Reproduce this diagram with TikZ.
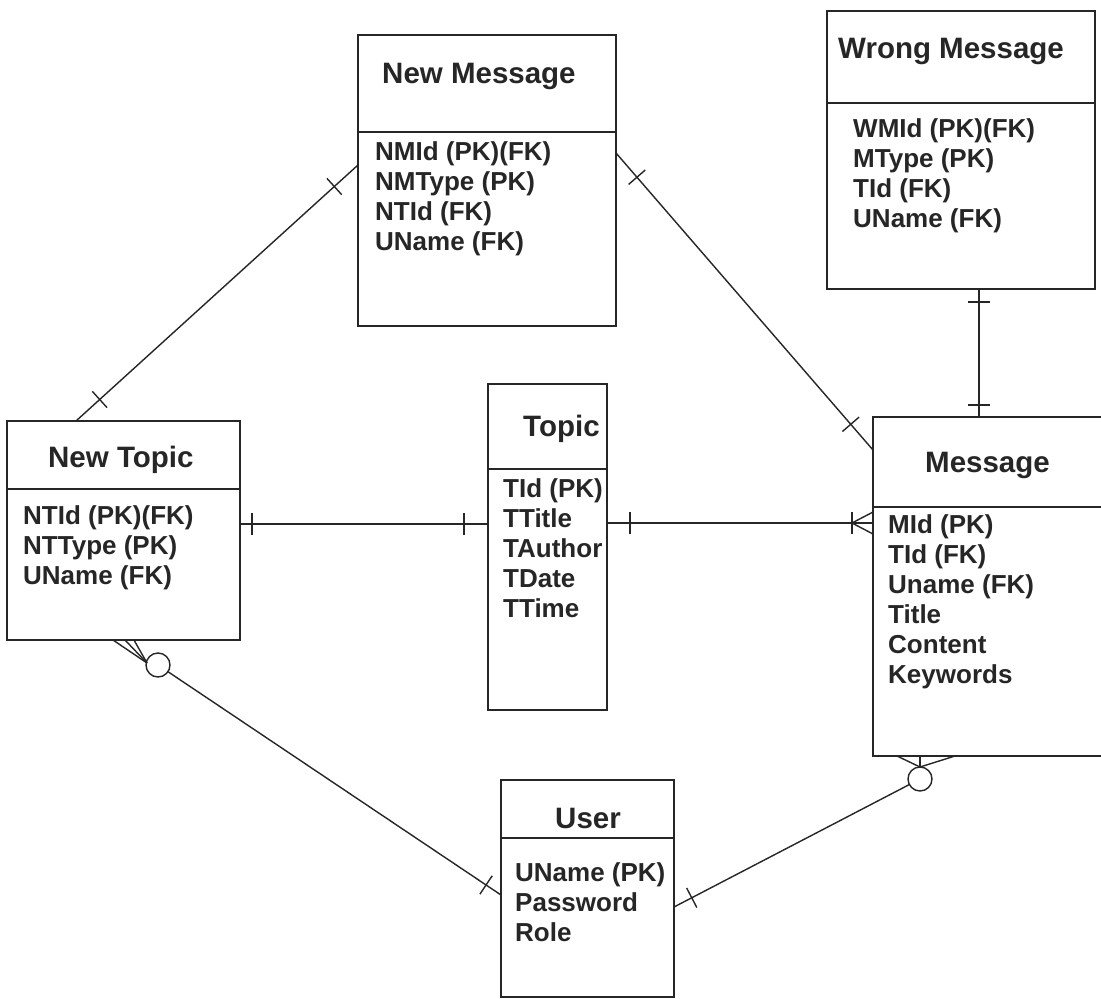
\documentclass[tikz,border=0pt]{standalone}
\usepackage{fontspec}
\setmainfont{Liberation Sans}
\usetikzlibrary{calc}
\definecolor{ink}{HTML}{262626}

% short bar across a relationship line, #3 away from #1 towards #2
\newcommand\reltick[3]{%
  \path ($(#1)!#3!(#2)$) coordinate (tk);
  \draw[rel] ($(tk)!11pt!90:(#2)$) -- ($(tk)!11pt!-90:(#2)$);}
% attribute list with a fixed line pitch
\newcommand\fieldlist[1]{\vtop{\baselineskip=30pt #1}}

\begin{document}
\begin{tikzpicture}[x=1pt,y=-1pt,
  entity/.style={draw=ink,line width=1.6pt,rectangle,inner sep=0pt,outer sep=0pt},
  divider/.style={draw=ink,line width=1.6pt},
  rel/.style={draw=ink,line width=1.4pt},
  optcircle/.style={draw=ink,line width=1.4pt,circle,minimum size=24pt,inner sep=0pt,outer sep=0pt},
  title/.style={anchor=base west,inner sep=0pt,text=ink,font=\fontsize{29.5}{30}\selectfont\bfseries},
  fields/.style={anchor=base west,inner sep=0pt,text=ink,font=\fontsize{26}{30}\selectfont\bfseries}]

\path[fill=white,use as bounding box] (0,0) rectangle (1101,999);

% entities
\node[entity,minimum width=258pt,minimum height=291pt] (nm)    at (487,180.5) {};
\node[entity,minimum width=268pt,minimum height=278pt] (wm)    at (961,150) {};
\node[entity,minimum width=233pt,minimum height=219pt] (nt)    at (123.5,530.5) {};
\node[entity,minimum width=119pt,minimum height=326pt] (topic) at (547.5,547) {};
\node[entity,minimum width=242pt,minimum height=339pt] (msg)   at (994,586.5) {};
\node[entity,minimum width=173pt,minimum height=217pt] (user)  at (587.5,888.5) {};

% header separators
\draw[divider] ($(nm.north west)+(0,97)$)    -- ($(nm.north east)+(0,97)$);
\draw[divider] ($(wm.north west)+(0,92)$)    -- ($(wm.north east)+(0,92)$);
\draw[divider] ($(nt.north west)+(0,68)$)    -- ($(nt.north east)+(0,68)$);
\draw[divider] ($(topic.north west)+(0,85)$) -- ($(topic.north east)+(0,85)$);
\draw[divider] ($(msg.north west)+(0,90)$)   -- ($(msg.north east)+(0,90)$);
\draw[divider] ($(user.north west)+(0,58)$)  -- ($(user.north east)+(0,58)$);

% titles
\node[title] (nmT)    at (382,83)  {New Message};
\node[title] (wmT)    at (838,58)  {Wrong Message};
\node[title] (ntT)    at (48,467)  {New Topic};
\node[title] (topicT) at (523,436) {Topic};
\node[title] (msgT)   at (925,472) {Message};
\node[title] (userT)  at (555,828) {User};

% attributes
\node[fields] (nmF) at (375,160) {\fieldlist{\hbox{NMId (PK)(FK)}\hbox{NMType (PK)}\hbox{NTId (FK)}\hbox{UName (FK)}}};
\node[fields] (wmF) at (853,137) {\fieldlist{\hbox{WMId (PK)(FK)}\hbox{MType (PK)}\hbox{TId (FK)}\hbox{UName (FK)}}};
\node[fields] (ntF) at (23,524) {\fieldlist{\hbox{NTId (PK)(FK)}\hbox{NTType (PK)}\hbox{UName (FK)}}};
\node[fields] (topicF) at (503,497) {\fieldlist{\hbox{TId (PK)}\hbox{TTitle}\hbox{TAuthor}\hbox{TDate}\hbox{TTime}}};
\node[fields] (msgF) at (888,533) {\fieldlist{\hbox{MId (PK)}\hbox{TId (FK)}\hbox{Uname (FK)}\hbox{Title}\hbox{Content}\hbox{Keywords}}};
\node[fields] (userF) at (515,881) {\fieldlist{\hbox{UName (PK)}\hbox{Password}\hbox{Role}}};

% attachment points on the entity borders
\coordinate (ntTop)   at ($(nt.north west)+(69,0)$);
\coordinate (nmLeft)  at ($(nm.north west)+(0,130)$);
\coordinate (nmRight) at ($(nm.north east)+(0,118)$);
\coordinate (msgTop)  at ($(msg.north west)+(106,0)$);
\coordinate (msgUp)   at ($(msg.north west)+(0,33)$);
\coordinate (msgMid)  at ($(msg.north west)+(0,106)$);
\coordinate (wmBot)   at ($(wm.south west)+(152,0)$);
\coordinate (ntRight) at ($(nt.north east)+(0,103)$);
\coordinate (tpLeft)  at ($(topic.north west)+(0,140)$);
\coordinate (tpRight) at ($(topic.north east)+(0,139)$);
\coordinate (usLeft)  at ($(user.north west)+(0,115)$);
\coordinate (usRight) at ($(user.north east)+(0,127)$);

% New Topic -- New Message (one to one)
\draw[rel] (ntTop) -- (nmLeft);
\reltick{ntTop}{nmLeft}{32pt}
\reltick{nmLeft}{ntTop}{32pt}

% New Message -- Message (one to one)
\draw[rel] (nmRight) -- (msgUp);
\reltick{nmRight}{msgUp}{32pt}
\reltick{msgUp}{nmRight}{34pt}

% Wrong Message -- Message (one to one)
\draw[rel] (wmBot) -- (msgTop);
\reltick{wmBot}{msgTop}{13pt}
\reltick{msgTop}{wmBot}{12pt}

% New Topic -- Topic (one to one)
\draw[rel] (ntRight) -- (tpLeft);
\reltick{ntRight}{tpLeft}{12pt}
\reltick{tpLeft}{ntRight}{24pt}

% Topic -- Message (one to many)
\draw[rel] (tpRight) -- (msgMid);
\reltick{tpRight}{msgMid}{23pt}
\coordinate (mfApex) at ($(msgMid)+(-21,0)$);
\draw[rel] ($(msgMid)+(0,-11)$) -- (mfApex) -- ($(msgMid)+(0,11)$);
\reltick{msgMid}{tpRight}{21pt}

% Message -- User (zero or many to one)
\node[optcircle] (msgOpt) at ($(msg.south west)+(47,23)$) {};
\coordinate (msgApex) at ($(msg.south west)+(47,11)$);
\draw[rel] ($(msg.south west)+(24,0)$) -- (msgApex) -- ($(msg.south west)+(82,0)$);
\draw[rel] ($(msg.south west)+(47,0)$) -- (msgApex);
\draw[rel] (msgOpt) -- (usRight);
\reltick{usRight}{msgOpt}{20pt}

% New Topic -- User (zero or many to one)
\node[optcircle] (ntOpt) at ($(nt.south west)+(151,25)$) {};
\coordinate (ntApex) at ($(nt.south west)+(140,23)$);
\draw[rel] ($(nt.south west)+(106,0)$) -- (ntApex);
\draw[rel] ($(nt.south west)+(118,0)$) -- (ntApex);
\draw[rel] ($(nt.south west)+(127,0)$) -- (ntApex);
\draw[rel] (ntOpt) -- (usLeft);
\reltick{usLeft}{ntOpt}{18pt}

\end{tikzpicture}
\end{document}
